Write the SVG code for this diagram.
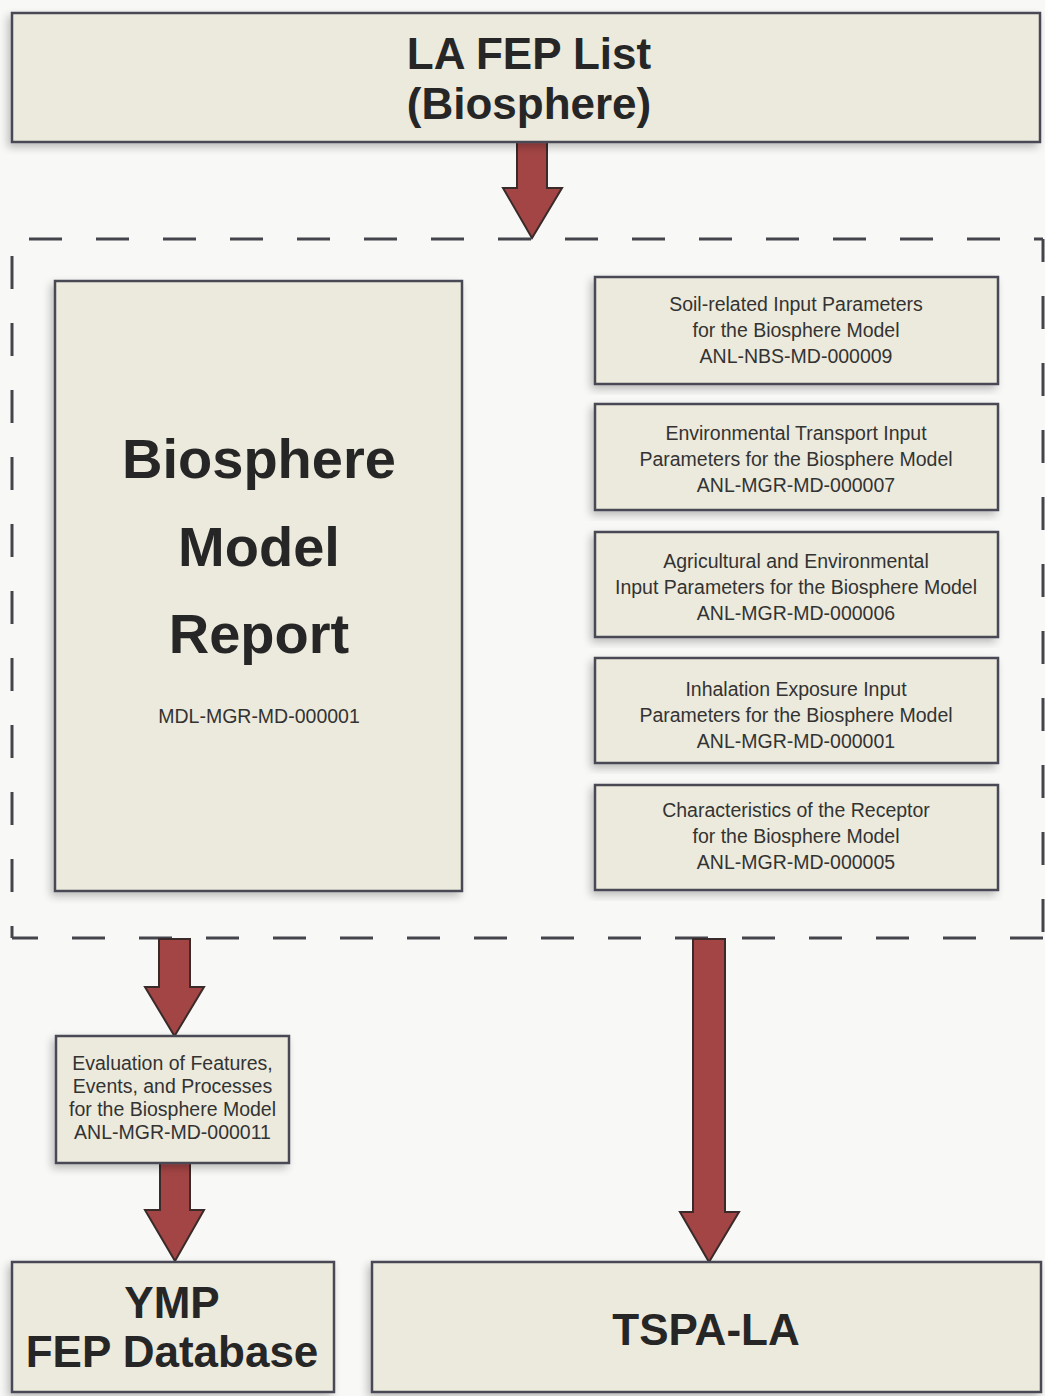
<svg xmlns="http://www.w3.org/2000/svg" width="1045" height="1396" viewBox="0 0 1045 1396">
<defs>
<filter id="sh" x="-10%" y="-10%" width="120%" height="120%">
<feGaussianBlur in="SourceAlpha" stdDeviation="4"/>
<feOffset dx="-3" dy="4" result="b"/>
<feComponentTransfer><feFuncA type="linear" slope="0.25"/></feComponentTransfer>
<feMerge><feMergeNode/><feMergeNode in="SourceGraphic"/></feMerge>
</filter>
</defs>
<style>
.box{fill:#ECEADC;stroke:#4A4A55;stroke-width:2.5;filter:url(#sh)}
.big{font-family:"Liberation Sans",Arial,sans-serif;font-weight:bold;fill:#262626;text-anchor:middle}
.sm{font-family:"Liberation Sans",Arial,sans-serif;font-size:19.5px;fill:#333333;text-anchor:middle}
.arr{fill:#A44545;stroke:#3A2A2A;stroke-width:2;stroke-linejoin:miter}
.dash{stroke:#44444C;stroke-width:3;fill:none;stroke-dasharray:33 34}
</style>
<rect width="1045" height="1396" fill="#F8F8F6"/>

<g id="connectors">
<line class="dash" x1="12" y1="239" x2="1043" y2="239" stroke-dashoffset="50"/>
<line class="dash" x1="12" y1="239" x2="12" y2="938" stroke-dashoffset="50"/>
<line class="dash" x1="1043" y1="239" x2="1043" y2="938" stroke-dashoffset="10"/>
<line class="dash" x1="12" y1="938" x2="1043" y2="938" stroke-dashoffset="7"/>
<polygon class="arr" points="517,142 547,142 547,188 562,188 532,238 503,188 517,188"/>
<polygon class="arr" points="159,939 190,939 190,987 204,987 174.5,1036 145,987 159,987"/>
<polygon class="arr" points="160,1163 190,1163 190,1210 204,1210 175,1261 145,1210 160,1210"/>
<polygon class="arr" points="693,939 725,939 725,1212 739,1212 709,1262 680,1212 693,1212"/>
</g>

<g id="la-fep-list">
<rect class="box" x="12" y="13" width="1028" height="129"/>
<text class="big" x="529" y="69" font-size="44">LA FEP List</text>
<text class="big" x="529" y="119" font-size="44">(Biosphere)</text>
</g>

<g id="biosphere-model-report">
<rect class="box" x="55" y="281" width="407" height="610"/>
<text class="big" x="259" y="478" font-size="56">Biosphere</text>
<text class="big" x="259" y="566" font-size="56">Model</text>
<text class="big" x="259" y="653" font-size="56">Report</text>
<text class="sm" x="259" y="723" font-size="20">MDL-MGR-MD-000001</text>
</g>

<g id="soil">
<rect class="box" x="595" y="277" width="403" height="107"/>
<text class="sm" x="796" y="311">Soil-related Input Parameters</text>
<text class="sm" x="796" y="337">for the Biosphere Model</text>
<text class="sm" x="796" y="363">ANL-NBS-MD-000009</text>
</g>

<g id="env-transport">
<rect class="box" x="595" y="404" width="403" height="106"/>
<text class="sm" x="796" y="440">Environmental Transport Input</text>
<text class="sm" x="796" y="466">Parameters for the Biosphere Model</text>
<text class="sm" x="796" y="492">ANL-MGR-MD-000007</text>
</g>

<g id="agri-env">
<rect class="box" x="595" y="532" width="403" height="105"/>
<text class="sm" x="796" y="568">Agricultural and Environmental</text>
<text class="sm" x="796" y="594">Input Parameters for the Biosphere Model</text>
<text class="sm" x="796" y="620">ANL-MGR-MD-000006</text>
</g>

<g id="inhalation">
<rect class="box" x="595" y="658" width="403" height="105"/>
<text class="sm" x="796" y="696">Inhalation Exposure Input</text>
<text class="sm" x="796" y="722">Parameters for the Biosphere Model</text>
<text class="sm" x="796" y="748">ANL-MGR-MD-000001</text>
</g>

<g id="receptor">
<rect class="box" x="595" y="785" width="403" height="105"/>
<text class="sm" x="796" y="817">Characteristics of the Receptor</text>
<text class="sm" x="796" y="843">for the Biosphere Model</text>
<text class="sm" x="796" y="869">ANL-MGR-MD-000005</text>
</g>

<g id="fep-evaluation">
<rect class="box" x="56" y="1036" width="233" height="127"/>
<text class="sm" x="172.5" y="1070" font-size="18">Evaluation of Features,</text>
<text class="sm" x="172.5" y="1093" font-size="18">Events, and Processes</text>
<text class="sm" x="172.5" y="1116" font-size="18">for the Biosphere Model</text>
<text class="sm" x="172.5" y="1139" font-size="18">ANL-MGR-MD-000011</text>
</g>

<g id="ymp-fep-database">
<rect class="box" x="12" y="1262" width="322" height="130"/>
<text class="big" x="172" y="1318" font-size="44">YMP</text>
<text class="big" x="172" y="1367" font-size="44">FEP Database</text>
</g>

<g id="tspa-la">
<rect class="box" x="372" y="1262" width="669" height="130"/>
<text class="big" x="706" y="1345" font-size="44">TSPA-LA</text>
</g>
</svg>
